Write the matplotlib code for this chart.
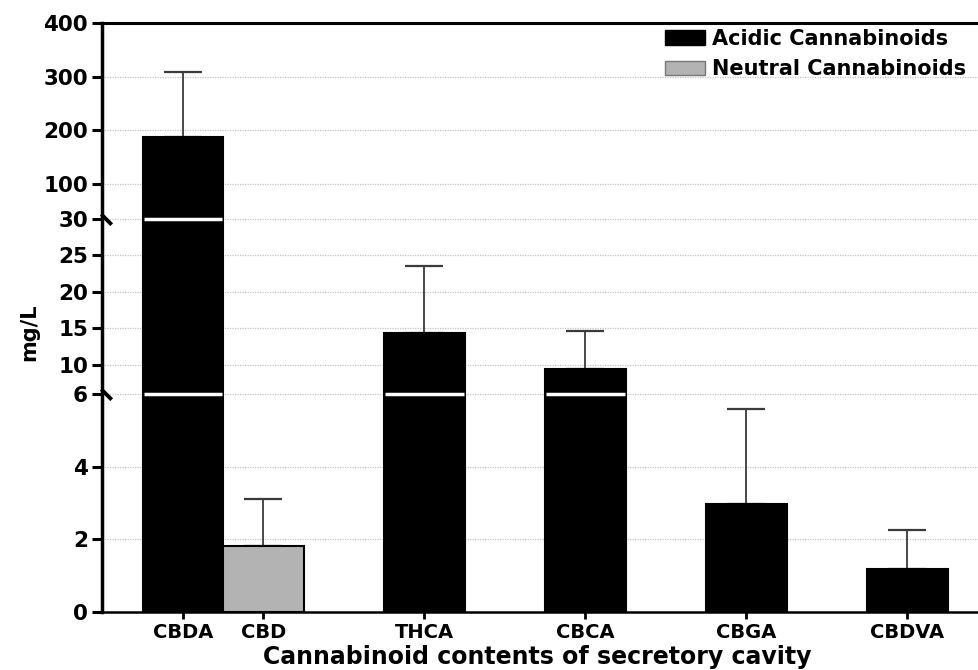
import numpy as np
import matplotlib
matplotlib.use('Agg')
import matplotlib.pyplot as plt
from matplotlib.patches import Patch

# data
compounds = ['CBDA', 'CBD', 'THCA', 'CBCA', 'CBGA', 'CBDVA']
groups = ['acidic', 'neutral', 'acidic', 'acidic', 'acidic', 'acidic']
means = [188, 1.82, 14.3, 9.4, 2.97, 1.18]
upper_err = [120, 1.30, 9.2, 5.3, 2.62, 1.08]

ytick_vals = [0, 2, 4, 6, 10, 15, 20, 25, 30, 100, 200, 300, 400]
breaks = [6, 30]

# broken axis: piecewise linear mapping (value -> pixel height)
knot_vals = [0, 6, 30, 100, 400]
knot_px = [0, 218, 393, 428, 589]

def fwd(v):
    return np.interp(v, knot_vals, knot_px)

def inv(p):
    return np.interp(p, knot_px, knot_vals)

colors = {'acidic': 'black', 'neutral': '#b3b3b3'}
font = 'DejaVu Sans'

fig = plt.figure(figsize=(9.79, 6.70), dpi=100)
W, H = 979, 670
ax = fig.add_axes([102 / W, (H - 612) / H, (1000 - 102) / W, (612 - 23) / H])

# bar positions: CBDA/CBD share a slot, the rest spaced one unit apart
xpos = np.array([0, 0.5, 1.5, 2.5, 3.5, 4.5])
width = 0.5

ax.set_yscale('function', functions=(fwd, inv))
ax.set_ylim(0, 400)
ax.set_xlim(-0.503, 5.075)

ax.bar(xpos, means, width=width, color=[colors[g] for g in groups],
       edgecolor='black', linewidth=1.5, zorder=3)
ax.errorbar(xpos, means, yerr=[np.zeros(len(means)), upper_err], fmt='none',
            ecolor='#3a3a3a', elinewidth=1.3, capsize=14, capthick=1.6, zorder=2)

# white cut lines through bars crossing the breaks
for b in breaks:
    for x, m in zip(xpos, means):
        if m > b:
            ax.hlines(b, x - width / 2 + 0.006, x + width / 2 - 0.006,
                      color='white', linewidth=2.5, zorder=4)
    ax.plot([0.004], [b], marker=[(-1, 1), (1, -1)], markersize=7.5, mew=2.8,
            color='black', transform=ax.get_yaxis_transform(), clip_on=False, zorder=6)

ax.set_yticks(ytick_vals)
ax.set_yticklabels([str(v) for v in ytick_vals])
ax.set_xticks(xpos)
ax.set_xticklabels(compounds)
ax.minorticks_off()

for v in ytick_vals[1:-1]:
    ax.axhline(v, color='#c4c4c4', linewidth=0.9, linestyle=(0, (1, 1)), zorder=0)

ax.spines['left'].set_linewidth(2.5)
ax.spines['bottom'].set_linewidth(1.8)
ax.spines['top'].set_linewidth(2.2)
ax.spines['right'].set_visible(False)

ax.tick_params(axis='y', length=7, width=2.2, pad=3, labelsize=15.5)
ax.tick_params(axis='x', length=5, width=2, pad=3, labelsize=14)
for lab in ax.get_xticklabels() + ax.get_yticklabels():
    lab.set_fontfamily(font)
    lab.set_fontweight('bold')

ax.set_ylabel('mg/L', fontsize=15, fontweight='bold', family=font)
ax.yaxis.set_label_coords(-73 / 898, (612 - 332) / 589)
ax.yaxis.label.set_va('center')
ax.set_xlabel('Cannabinoid contents of secretory cavity', fontsize=17,
              fontweight='bold', family=font)
ax.xaxis.set_label_coords((537 - 102) / 898, -(657 - 612) / 589)
ax.xaxis.label.set_va('center')

handles = [Patch(facecolor='black', edgecolor='black', label='Acidic Cannabinoids'),
           Patch(facecolor='#b3b3b3', edgecolor='#777777', label='Neutral Cannabinoids')]
ax.legend(handles=handles, loc='upper left', bbox_to_anchor=(665 / W, 1 - 29 / H),
          bbox_transform=fig.transFigure, frameon=False, borderpad=0, borderaxespad=0,
          handlelength=1.9, handleheight=0.7, handletextpad=0.35, labelspacing=0.5,
          prop={'family': font, 'weight': 'bold', 'size': 15})

fig.savefig('out.png', dpi=100)
